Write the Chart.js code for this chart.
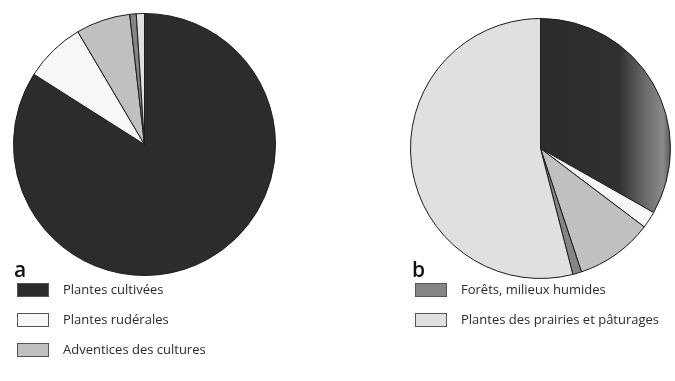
<!DOCTYPE html>
<html>
<head>
<meta charset="utf-8">
<script src="https://cdn.jsdelivr.net/npm/chart.js@4/dist/chart.umd.min.js"></script>
<style>
  body { margin: 0; background: #fff; }
  #page { position: relative; width: 675px; height: 381px; overflow: hidden; font-family: "Open Sans", sans-serif; color: #2a2a2a; }
  .pie { position: absolute; }
  .lettre { position: absolute; font-size: 21px; font-weight: 600; line-height: 1; color: #111; }
  .item { position: absolute; height: 16px; font-size: 13px; line-height: 16px; white-space: nowrap; }
  .carre { position: absolute; left: 0; top: 1px; width: 30px; height: 12px; border: 1px solid #555; }
  .texte { position: absolute; left: 46px; top: -1px; }
</style>
</head>
<body>
<div id="page">
  <div class="pie" style="left:13px; top:13px; width:263px; height:263px;"><canvas id="pieA"></canvas></div>
  <div class="pie" style="left:410px; top:18px; width:261px; height:261px;"><canvas id="pieB"></canvas></div>
  <div class="lettre" style="left:14px; top:259px;">a</div>
  <div class="lettre" style="left:412px; top:259px;">b</div>
  <div id="legende"></div>
</div>

<script>
// categories (same for both pies)
var categories = [
  'Plantes cultivées',
  'Plantes rudérales',
  'Adventices des cultures',
  'Forêts, milieux humides',
  'Plantes des prairies et pâturages'
];

// parts in %
var valeursA = [84.0, 7.5, 6.7, 0.8, 1.0];
var valeursB = [33.2, 2.1, 9.6, 1.1, 54.0];

var couleurs = ['#2c2c2c', '#f7f7f7', '#c0c0c0', '#858585', '#e0e0e0'];

function creerPie(ctx, valeurs, fondFn) {
  return new Chart(ctx, {
    type: 'pie',
    data: {
      labels: categories,
      datasets: [{
        data: valeurs,
        backgroundColor: fondFn || couleurs,
        borderColor: '#1c1c1c',
        borderWidth: 1
      }]
    },
    options: {
      responsive: true,
      maintainAspectRatio: false,
      animation: false,
      layout: { padding: 0 },
      plugins: {
        legend: { display: false },
        tooltip: { enabled: false }
      }
    }
  });
}

creerPie(document.getElementById('pieA'), valeursA);

// pie b: the dark slice gets lighter toward its right edge in the scan
creerPie(document.getElementById('pieB'), valeursB, function (c) {
  if (c.dataIndex !== 0) { return couleurs[c.dataIndex]; }
  var area = c.chart.chartArea;
  if (!area) { return couleurs[0]; }
  var g = c.chart.ctx.createLinearGradient(area.left, 0, area.right, 0);
  g.addColorStop(0.5, '#2c2c2c');
  g.addColorStop(0.8, '#303030');
  g.addColorStop(0.9, '#6a6a6a');
  g.addColorStop(0.97, '#8a8a8a');
  g.addColorStop(1, '#555');
  return g;
});

// legend: three items under a, two under b
var posLegende = [
  [17, 282], [17, 312], [17, 342],
  [415, 282], [415, 312]
];
var legende = document.getElementById('legende');
categories.forEach(function (nom, i) {
  var item = document.createElement('div');
  item.className = 'item';
  item.style.left = posLegende[i][0] + 'px';
  item.style.top = posLegende[i][1] + 'px';
  var carre = document.createElement('div');
  carre.className = 'carre';
  carre.style.background = couleurs[i];
  var texte = document.createElement('div');
  texte.className = 'texte';
  texte.textContent = nom;
  item.appendChild(carre);
  item.appendChild(texte);
  legende.appendChild(item);
});
</script>
</body>
</html>
